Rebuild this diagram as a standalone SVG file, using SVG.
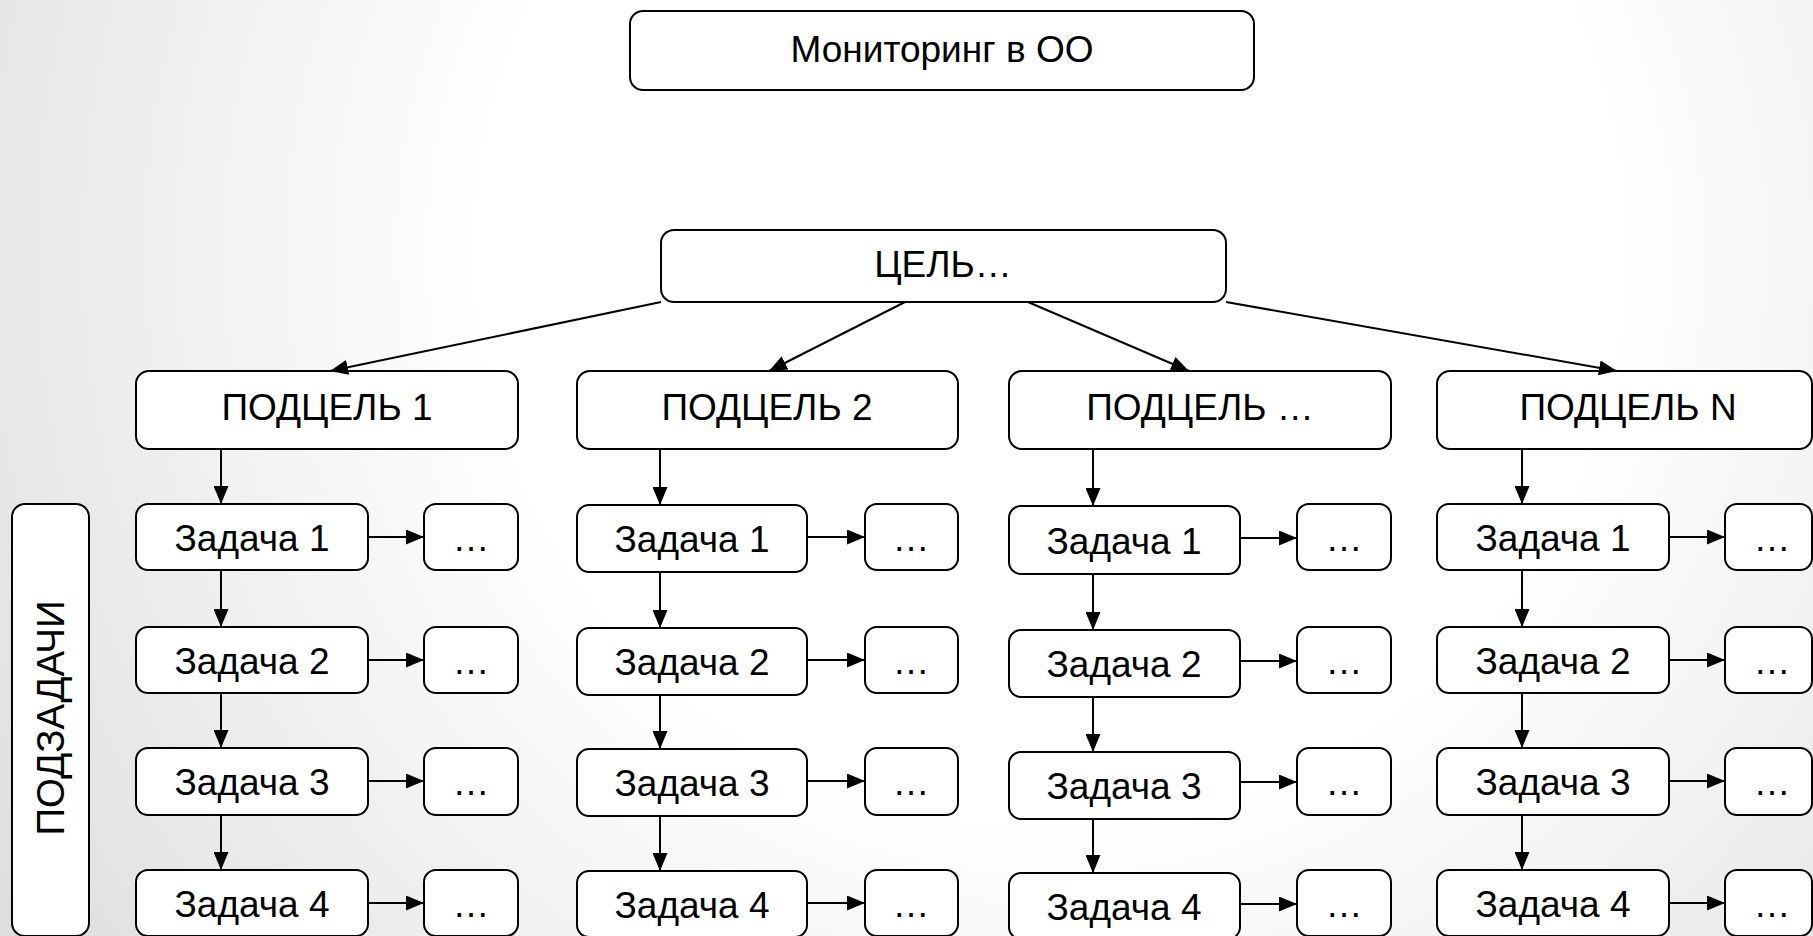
<svg xmlns="http://www.w3.org/2000/svg" width="1813" height="936" viewBox="0 0 1813 936">
<defs>
<radialGradient id="bg" cx="1050" cy="250" r="1250" gradientUnits="userSpaceOnUse">
<stop offset="0" stop-color="#ffffff"/>
<stop offset="0.45" stop-color="#ffffff"/>
<stop offset="1" stop-color="#dedede"/>
</radialGradient>
<marker id="ah" viewBox="0 0 10 10" refX="10" refY="5" markerWidth="18" markerHeight="15" markerUnits="userSpaceOnUse" orient="auto" preserveAspectRatio="none">
<path d="M0,0 L10,5 L0,10 z" fill="#000"/>
</marker>
<style>
.b{fill:#fff;stroke:#000;stroke-width:2}
.t{font-family:"Liberation Sans",Arial,sans-serif;font-size:37px;fill:#000;text-anchor:middle}
.c{fill:none;stroke:#000;stroke-width:2;marker-end:url(#ah)}
</style>
</defs>
<rect x="0" y="0" width="1813" height="936" fill="url(#bg)"/>

<g id="top"><rect class="b" x="630" y="11" width="624" height="79" rx="13"/><text class="t" x="942" y="62">Мониторинг в ОО</text></g>
<g id="goal"><rect class="b" x="661" y="230" width="565" height="72" rx="13"/><text class="t" x="943" y="277">ЦЕЛЬ…</text></g>

<g id="sub1"><rect class="b" x="136" y="371" width="382" height="78" rx="13"/><text class="t" x="327" y="420">ПОДЦЕЛЬ 1</text></g>
<g id="sub2"><rect class="b" x="577" y="371" width="381" height="78" rx="13"/><text class="t" x="767" y="420">ПОДЦЕЛЬ 2</text></g>
<g id="sub3"><rect class="b" x="1009" y="371" width="382" height="78" rx="13"/><text class="t" x="1200" y="420">ПОДЦЕЛЬ …</text></g>
<g id="subN"><rect class="b" x="1437" y="371" width="375" height="78" rx="13"/><text class="t" x="1628" y="420">ПОДЦЕЛЬ N</text></g>

<g id="podzadachi"><rect class="b" x="12" y="504" width="77" height="432" rx="13"/><text class="t" style="font-size:38.5px" transform="translate(64,718) rotate(-90)">ПОДЗАДАЧИ</text></g>

<g id="c1t1"><rect class="b" x="136" y="504" width="232" height="66" rx="12"/><text class="t" x="252" y="551">Задача 1</text></g>
<g id="c1t2"><rect class="b" x="136" y="627" width="232" height="66" rx="12"/><text class="t" x="252" y="674">Задача 2</text></g>
<g id="c1t3"><rect class="b" x="136" y="748" width="232" height="67" rx="12"/><text class="t" x="252" y="795">Задача 3</text></g>
<g id="c1t4"><rect class="b" x="136" y="870" width="232" height="66" rx="12"/><text class="t" x="252" y="917">Задача 4</text></g>
<g id="c1d1"><rect class="b" x="424" y="504" width="94" height="66" rx="12"/><text class="t" x="471" y="551">…</text></g>
<g id="c1d2"><rect class="b" x="424" y="627" width="94" height="66" rx="12"/><text class="t" x="471" y="674">…</text></g>
<g id="c1d3"><rect class="b" x="424" y="748" width="94" height="67" rx="12"/><text class="t" x="471" y="795">…</text></g>
<g id="c1d4"><rect class="b" x="424" y="870" width="94" height="66" rx="12"/><text class="t" x="471" y="917">…</text></g>

<g id="c2t1"><rect class="b" x="577" y="505" width="230" height="67" rx="12"/><text class="t" x="692" y="552">Задача 1</text></g>
<g id="c2t2"><rect class="b" x="577" y="628" width="230" height="67" rx="12"/><text class="t" x="692" y="675">Задача 2</text></g>
<g id="c2t3"><rect class="b" x="577" y="749" width="230" height="67" rx="12"/><text class="t" x="692" y="796">Задача 3</text></g>
<g id="c2t4"><rect class="b" x="577" y="871" width="230" height="66" rx="12"/><text class="t" x="692" y="918">Задача 4</text></g>
<g id="c2d1"><rect class="b" x="865" y="504" width="93" height="66" rx="12"/><text class="t" x="911" y="551">…</text></g>
<g id="c2d2"><rect class="b" x="865" y="627" width="93" height="66" rx="12"/><text class="t" x="911" y="674">…</text></g>
<g id="c2d3"><rect class="b" x="865" y="748" width="93" height="67" rx="12"/><text class="t" x="911" y="795">…</text></g>
<g id="c2d4"><rect class="b" x="865" y="870" width="93" height="66" rx="12"/><text class="t" x="911" y="917">…</text></g>

<g id="c3t1"><rect class="b" x="1009" y="506" width="231" height="68" rx="12"/><text class="t" x="1124" y="554">Задача 1</text></g>
<g id="c3t2"><rect class="b" x="1009" y="630" width="231" height="67" rx="12"/><text class="t" x="1124" y="677">Задача 2</text></g>
<g id="c3t3"><rect class="b" x="1009" y="752" width="231" height="67" rx="12"/><text class="t" x="1124" y="799">Задача 3</text></g>
<g id="c3t4"><rect class="b" x="1009" y="873" width="231" height="66" rx="12"/><text class="t" x="1124" y="920">Задача 4</text></g>
<g id="c3d1"><rect class="b" x="1297" y="504" width="94" height="66" rx="12"/><text class="t" x="1344" y="551">…</text></g>
<g id="c3d2"><rect class="b" x="1297" y="627" width="94" height="66" rx="12"/><text class="t" x="1344" y="674">…</text></g>
<g id="c3d3"><rect class="b" x="1297" y="748" width="94" height="67" rx="12"/><text class="t" x="1344" y="795">…</text></g>
<g id="c3d4"><rect class="b" x="1297" y="870" width="94" height="66" rx="12"/><text class="t" x="1344" y="917">…</text></g>

<g id="c4t1"><rect class="b" x="1437" y="504" width="232" height="66" rx="12"/><text class="t" x="1553" y="551">Задача 1</text></g>
<g id="c4t2"><rect class="b" x="1437" y="627" width="232" height="66" rx="12"/><text class="t" x="1553" y="674">Задача 2</text></g>
<g id="c4t3"><rect class="b" x="1437" y="748" width="232" height="67" rx="12"/><text class="t" x="1553" y="795">Задача 3</text></g>
<g id="c4t4"><rect class="b" x="1437" y="870" width="232" height="66" rx="12"/><text class="t" x="1553" y="917">Задача 4</text></g>
<g id="c4d1"><rect class="b" x="1725" y="504" width="87" height="66" rx="12"/><text class="t" x="1772" y="551">…</text></g>
<g id="c4d2"><rect class="b" x="1725" y="627" width="87" height="66" rx="12"/><text class="t" x="1772" y="674">…</text></g>
<g id="c4d3"><rect class="b" x="1725" y="748" width="87" height="67" rx="12"/><text class="t" x="1772" y="795">…</text></g>
<g id="c4d4"><rect class="b" x="1725" y="870" width="87" height="66" rx="12"/><text class="t" x="1772" y="917">…</text></g>

<g id="connectors">
<path class="c" d="M661,302 L330,371"/>
<path class="c" d="M905,302 L769,371"/>
<path class="c" d="M1028,302 L1189,371"/>
<path class="c" d="M1226,302 L1617,371"/>

<path class="c" d="M221,449 V504"/>
<path class="c" d="M221,570 V627"/>
<path class="c" d="M221,693 V748"/>
<path class="c" d="M221,815 V870"/>
<path class="c" d="M660,449 V505"/>
<path class="c" d="M660,572 V628"/>
<path class="c" d="M660,695 V749"/>
<path class="c" d="M660,816 V871"/>
<path class="c" d="M1093,449 V506"/>
<path class="c" d="M1093,574 V630"/>
<path class="c" d="M1093,697 V752"/>
<path class="c" d="M1093,819 V873"/>
<path class="c" d="M1522,449 V504"/>
<path class="c" d="M1522,570 V627"/>
<path class="c" d="M1522,693 V748"/>
<path class="c" d="M1522,815 V870"/>

<path class="c" d="M368,537 H424"/>
<path class="c" d="M368,660 H424"/>
<path class="c" d="M368,781 H424"/>
<path class="c" d="M368,903 H424"/>
<path class="c" d="M807,537 H865"/>
<path class="c" d="M807,660 H865"/>
<path class="c" d="M807,781 H865"/>
<path class="c" d="M807,903 H865"/>
<path class="c" d="M1240,538 H1297"/>
<path class="c" d="M1240,661 H1297"/>
<path class="c" d="M1240,782 H1297"/>
<path class="c" d="M1240,904 H1297"/>
<path class="c" d="M1669,537 H1725"/>
<path class="c" d="M1669,660 H1725"/>
<path class="c" d="M1669,781 H1725"/>
<path class="c" d="M1669,903 H1725"/>
</g>
</svg>
